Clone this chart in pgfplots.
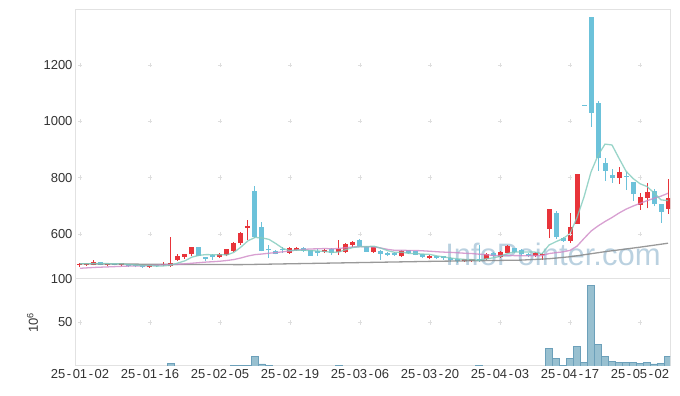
\documentclass[border=0pt]{standalone}
\usepackage{pgfplots}
\usepackage{pgfplotstable}
\pgfplotsset{compat=1.18}
\usepackage{fontspec}
\setmainfont{Liberation Sans}
\definecolor{cred}{RGB}{232,52,58}
\definecolor{cblue}{RGB}{108,194,218}
\definecolor{cteal}{RGB}{128,202,188}
\definecolor{cpink}{RGB}{206,136,198}
\definecolor{cgray}{RGB}{135,135,135}
\definecolor{txt}{RGB}{51,51,51}
\definecolor{frame}{RGB}{226,226,226}
\definecolor{volfill}{RGB}{152,192,208}
\definecolor{voldraw}{RGB}{108,160,186}
\definecolor{wm}{RGB}{186,209,224}
\newcommand{\hy}{\kern0.12em-\kern0.12em}

\pgfplotstableread{
x O H L C
0 489 497 484 494
1 489 496 487 494
2 490 506 488 502
4 488 495 485 492
6 489 497 487 496
10 481 490 479 489
12 488 500 487 491
13 485 590 482 498
14 507 527 504 520
15 519 530 512 528
16 527 555 522 552
20 518 533 516 529
21 525 548 520 547
22 541 572 537 569
23 567 607 562 605
24 622 650 578 628
30 534 553 530 550
31 543 554 541 550
35 536 545 533 543
37 537 579 526 547
38 537 569 531 565
39 561 574 555 572
42 537 555 534 553
46 520 543 518 541
50 513 524 510 520
55 503 511 501 510
56 503 512 501 511
58 512 531 509 529
60 517 539 515 537
61 534 562 532 557
65 522 536 518 534
66 524 531 508 529
67 617 690 585 689
70 576 675 568 624
71 636 813 636 813
77 798 838 777 819
80 703 744 685 730
81 729 780 691 749
84 689 794 671 727
}\redtab

\pgfplotstableread{
x O H L C
3 500 502 488 491
5 491 493 488 490
7 493 494 482 486
8 490 491 481 485
9 489 490 480 482
11 490 491 482 486
17 552 553 520 522
18 517 518 505 511
19 525 527 509 518
25 753 770 585 588
26 625 643 538 540
27 545 561 514 542
28 541 542 527 529
29 547 552 532 542
32 550 552 537 539
33 543 544 522 523
34 539 547 522 534
36 547 549 526 533
40 579 583 553 555
41 555 556 536 537
43 541 542 508 530
44 534 536 520 526
45 531 537 521 526
47 543 544 528 531
48 538 540 524 526
49 529 530 515 518
51 521 523 512 514
52 520 522 508 513
53 516 517 500 506
54 511 512 496 504
57 511 561 500 503
59 533 535 518 522
62 549 550 534 536
63 543 545 520 527
64 529 531 517 523
68 676 680 583 588
69 585 590 572 576
72 1055 1055 1055 1055
73 1371 1371 981 1031
74 1066 1073 825 871
75 851 871 789 824
76 810 830 782 798
78 806 821 756 803
79 784 785 718 741
82 753 759 698 706
83 706 706 640 679
}\bluetab

\pgfplotstableread{
x m
0 494
1 494
2 495
3 495
4 494.6
5 493.8
6 494.2
7 491.0
8 489.8
9 487.8
10 487.6
11 485.6
12 486.6
13 489.2
14 496.8
15 504.6
16 517.8
17 524.0
18 526.6
19 526.2
20 526.4
21 525.4
22 534.8
23 553.6
24 575.6
25 587.4
26 586.0
27 580.6
28 565.4
29 548.2
30 540.6
31 542.6
32 542.0
33 540.8
34 539.2
35 537.8
36 534.4
37 536.0
38 544.4
39 552.0
40 554.4
41 555.2
42 556.4
43 549.4
44 540.2
45 534.4
46 535.2
47 530.8
48 530.0
49 528.4
50 527.2
51 521.8
52 518.2
53 514.2
54 511.4
55 509.4
56 508.8
57 506.8
58 511.4
59 515.0
60 520.4
61 529.6
62 536.2
63 535.8
64 536.0
65 535.4
66 529.8
67 560.4
68 572.6
69 583.2
70 601.2
71 658.0
72 731.2
73 819.8
74 878.8
75 918.8
76 915.8
77 868.6
78 823.0
79 797.0
80 778.2
81 768.4
82 745.8
83 721.0
84 718.2
}\maA

\pgfplotstableread{
x m
0 478
1 479.5
2 481
3 482
4 483
5 484
6 485
7 486
8 486
9 487
10 488
11 489
12 490
13 491
14 492
15 494
16 496
17 498
18 500
19 501.4
20 503.1
21 505.8
22 509.1
23 514.8
24 521.6
25 526.5
26 528.7
27 531.5
28 533.7
29 536.7
30 539.8
31 543.0
32 545.4
33 546.6
34 547.3
35 548.1
36 547.1
37 548.4
38 551.1
39 553.8
40 555.1
41 554.6
42 553.8
43 550.0
44 544.9
45 541.8
46 541.9
47 541.3
48 541.2
49 540.0
50 538.5
51 536.7
52 535.4
53 534.5
54 533.0
55 531.4
56 530.3
57 528.1
58 526.3
59 523.8
60 522.9
61 523.9
62 523.0
63 522.9
64 522.7
65 523.1
66 522.5
67 530.4
68 533.5
69 536.4
70 541.6
71 556.6
72 583.7
73 609.9
74 628.3
75 644.0
76 658.3
77 674.1
78 687.8
79 698.8
80 708.4
81 718.0
82 726.5
83 734.1
84 744.3
}\maB

\pgfplotstableread{
x m
0 494
13 492
23 491
37 497
51 503
63 507
67 512
70 519
72 526
75 537
80 553
84 567
}\maC

\pgfplotstableread{
x v
13 3.4
22 0.8
23 0.8
24 0.8
25 11.4
26 2.3
27 0.8
37 0.8
57 0.8
67 20.5
68 8.3
69 1.0
70 9.0
71 22.7
72 4.5
73 92.4
74 25.0
75 11.4
76 5.7
77 4.5
78 4.5
79 4.5
80 3.4
81 4.5
82 2.3
83 3.4
84 11.4
}\voltab

\begin{document}
\begin{tikzpicture}
\useasboundingbox (0pt,0pt) rectangle (680pt,396pt);
\begin{axis}[
  at={(76pt,117pt)}, anchor=south west, scale only axis,
  width=594pt, height=269pt,
  xmin=-0.571, xmax=84.286, ymin=440, ymax=1395,
  axis line style={frame, line width=1pt},
  xtick={0,10,...,80}, xticklabels={},
  ytick={600,800,1000,1200},
  major tick length=0pt,
  yticklabel style={font=\fontsize{13}{13}\selectfont, text=txt},
  /pgf/number format/assume math mode=true,
  /pgf/number format/1000 sep={},
]
\node[font=\fontsize{31}{31}\selectfont, text=wm] at (rel axis cs:0.803,0.09) {InfoPointer.com};
\addplot[only marks, mark=+, mark size=2.2pt, black!13, line width=0.6pt, forget plot] coordinates {
(0,600)(10,600)(20,600)(30,600)(40,600)(50,600)(60,600)(70,600)(80,600)
(0,800)(10,800)(20,800)(30,800)(40,800)(50,800)(60,800)(70,800)(80,800)
(0,1000)(10,1000)(20,1000)(30,1000)(40,1000)(50,1000)(60,1000)(70,1000)(80,1000)
(0,1200)(10,1200)(20,1200)(30,1200)(40,1200)(50,1200)(60,1200)(70,1200)(80,1200)};
% wicks
\addplot[draw=none, no markers, forget plot, error bars/.cd, y dir=plus, y explicit, error mark=none,
  error bar style={draw=cred, line width=1pt}]
  table[x=x, y=L, y error plus expr=\thisrow{H}-\thisrow{L}] {\redtab};
\addplot[draw=none, no markers, forget plot, error bars/.cd, y dir=plus, y explicit, error mark=none,
  error bar style={draw=cblue, line width=1pt}]
  table[x=x, y=L, y error plus expr=\thisrow{H}-\thisrow{L}] {\bluetab};
% bodies
\addplot[draw=none, no markers, forget plot, error bars/.cd, y dir=plus, y explicit, error mark=none,
  error bar style={draw=cred, line width=5pt}]
  table[x=x, y=O, y error plus expr={max(\thisrow{C}-\thisrow{O},4)}] {\redtab};
\addplot[draw=none, no markers, forget plot, error bars/.cd, y dir=plus, y explicit, error mark=none,
  error bar style={draw=cblue, line width=5pt}]
  table[x=x, y=C, y error plus expr={max(\thisrow{O}-\thisrow{C},4)}] {\bluetab};
% moving averages
\addplot[cgray, line width=1.3pt, opacity=0.85, forget plot] table[x=x, y=m] {\maC};
\addplot[cpink, line width=1.3pt, opacity=0.8, forget plot] table[x=x, y=m] {\maB};
\addplot[cteal, line width=1.3pt, opacity=0.8, forget plot] table[x=x, y=m] {\maA};
\end{axis}

\begin{axis}[
  at={(76pt,30pt)}, anchor=south west, scale only axis,
  width=594pt, height=87pt,
  xmin=-0.571, xmax=84.286, ymin=0, ymax=100,
  axis line style={frame, line width=1pt},
  xtick={0,10,...,80},
  xticklabels={25\hy01\hy02,25\hy01\hy16,25\hy02\hy05,25\hy02\hy19,25\hy03\hy06,25\hy03\hy20,25\hy04\hy03,25\hy04\hy17,25\hy05\hy02},
  ytick={50,100},
  major tick length=0pt,
  yticklabel style={font=\fontsize{13}{13}\selectfont, text=txt},
  xticklabel style={font=\fontsize{13}{13}\selectfont, text=txt},
  ylabel={10\textsuperscript{6}},
  ylabel shift=6pt,
  ylabel style={font=\fontsize{13}{13}\selectfont, text=txt},
  /pgf/number format/assume math mode=true,
  /pgf/number format/1000 sep={},
]
\addplot[only marks, mark=+, mark size=2.2pt, black!13, line width=0.6pt, forget plot] coordinates {
(0,50)(10,50)(20,50)(30,50)(40,50)(50,50)(60,50)(70,50)(80,50)};
\addplot[ybar, bar width=1, fill=volfill, draw=voldraw, line width=0.6pt] table[x=x, y=v] {\voltab};
\end{axis}
\end{tikzpicture}
\end{document}
